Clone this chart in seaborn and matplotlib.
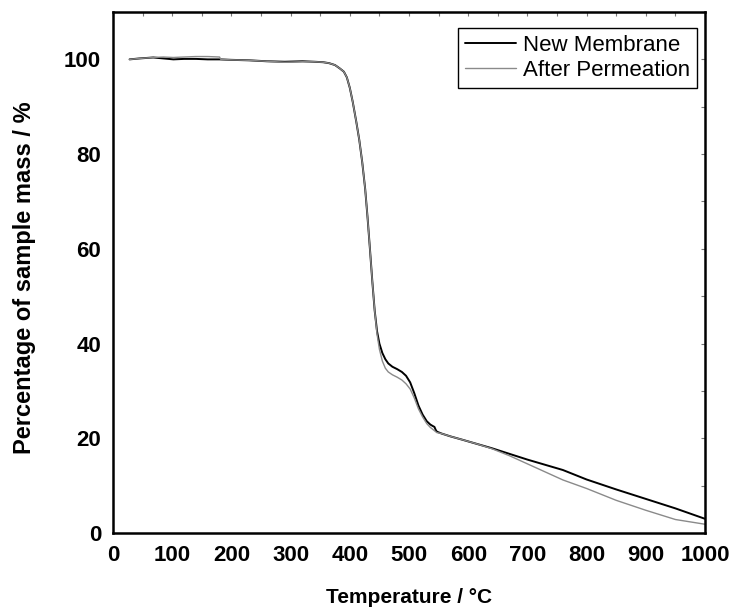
import matplotlib
matplotlib.use("Agg")
import matplotlib.pyplot as plt
from matplotlib.ticker import MultipleLocator
import seaborn as sns
import pandas as pd

# Thermogravimetric curves: temperature (°C) and remaining sample mass (%)
temp_new = [28, 45, 68, 85, 102, 120, 140, 160, 180, 200, 230, 260, 290, 320, 340,
            355, 365, 375, 383, 390, 395, 400, 405, 411, 416, 421, 426, 430, 434,
            438, 442, 446, 450, 455, 460, 465, 472, 480, 488, 495, 502, 509, 516,
            523, 530, 536, 540, 543, 545, 547, 555, 570, 590, 615, 640, 670, 700,
            730, 760, 800, 850, 900, 950, 1000]
mass_new = [100.0, 100.2, 100.4, 100.2, 100.0, 100.1, 100.1, 100.0, 100.0, 99.9,
            99.8, 99.6, 99.5, 99.6, 99.5, 99.4, 99.2, 98.8, 98.1, 97.4, 96.2, 94.0,
            91.0, 86.8, 83.0, 78.3, 72.6, 66.6, 60.0, 53.2, 47.0, 42.6, 40.0, 38.0,
            36.7, 35.8, 35.1, 34.6, 34.0, 33.2, 31.8, 29.5, 26.9, 25.0, 23.6, 22.9,
            22.6, 22.4, 21.8, 21.4, 21.0, 20.4, 19.7, 18.8, 17.9, 16.7, 15.5, 14.4,
            13.3, 11.3, 9.2, 7.2, 5.2, 3.0]

temp_perm = [28, 45, 68, 85, 102, 120, 140, 160, 180, 182, 200, 230, 260, 290, 320,
             340, 355, 365, 375, 383, 390, 395, 400, 405, 411, 416, 421, 426, 430,
             434, 438, 442, 446, 450, 455, 460, 465, 472, 480, 488, 495, 502, 509,
             516, 523, 530, 536, 540, 543, 545, 547, 555, 570, 590, 615, 640, 670,
             700, 730, 760, 800, 850, 900, 950, 1000]
mass_perm = [100.0, 100.2, 100.4, 100.5, 100.4, 100.5, 100.6, 100.6, 100.5, 100.0,
             99.9, 99.8, 99.6, 99.4, 99.5, 99.5, 99.4, 99.2, 98.8, 98.1, 97.4, 96.2,
             94.0, 91.0, 86.8, 83.0, 78.3, 72.6, 66.6, 60.0, 53.2, 47.0, 42.0, 38.8,
             36.3, 34.8, 34.0, 33.4, 32.9, 32.3, 31.5, 30.4, 28.5, 26.2, 24.5, 23.1,
             22.3, 21.9, 21.6, 21.4, 21.2, 21.0, 20.4, 19.7, 18.8, 17.8, 16.3, 14.6,
             12.9, 11.2, 9.4, 6.9, 4.8, 2.85, 1.85]

labels = ["New Membrane", "After Permeation"]

df_new = pd.DataFrame({"T": temp_new, "m": mass_new})
df_perm = pd.DataFrame({"T": temp_perm, "m": mass_perm})

sns.set_style("white")
plt.rcParams["font.family"] = ["Liberation Sans", "DejaVu Sans"]
plt.rcParams.update({"text.color": "black", "axes.labelcolor": "black",
                     "xtick.color": "black", "ytick.color": "black"})

fig = plt.figure(figsize=(7.31, 6.13), dpi=100)
ax = fig.add_axes([0.1546, 0.1305, 0.8098, 0.8499])

sns.lineplot(data=df_new, x="T", y="m", sort=False, estimator=None,
             color="black", linewidth=1.4, label=labels[0], ax=ax)
sns.lineplot(data=df_perm, x="T", y="m", sort=False, estimator=None,
             color="#8a8a8a", linewidth=1.0, label=labels[1], ax=ax)

ax.set_xlim(0, 1000)
ax.set_ylim(0, 110)
ax.xaxis.set_major_locator(MultipleLocator(100))
ax.xaxis.set_minor_locator(MultipleLocator(50))
ax.yaxis.set_major_locator(MultipleLocator(20))
ax.yaxis.set_minor_locator(MultipleLocator(10))

for side in ["left", "bottom", "top", "right"]:
    ax.spines[side].set_visible(True)
    ax.spines[side].set_color("black")
    ax.spines[side].set_linewidth(1.8)

ax.tick_params(axis="both", which="major", direction="out", length=7, width=1.6,
               color="black", labelcolor="black", labelsize=16, pad=1.5,
               top=False, right=False)
ax.tick_params(axis="both", which="minor", direction="out", length=4, width=1.4,
               color="black", top=False, right=False)
for lab in ax.get_xticklabels() + ax.get_yticklabels():
    lab.set_fontweight("bold")

# faint inward ticks along the top and right frame
ax_top = ax.secondary_xaxis("top")
ax_top.xaxis.set_major_locator(MultipleLocator(50))
ax_top.tick_params(direction="in", length=3, width=0.8, color="#777777",
                   labeltop=False)
ax_top.spines["top"].set_visible(False)
ax_right = ax.secondary_yaxis("right")
ax_right.yaxis.set_major_locator(MultipleLocator(10))
ax_right.tick_params(direction="in", length=3, width=0.8, color="#777777",
                     labelright=False)
ax_right.spines["right"].set_visible(False)

ax.set_xlabel("Temperature / °C", fontsize=15, fontweight="bold", color="black")
ax.xaxis.set_label_coords(0.5, -0.105)
ax.set_ylabel("Percentage of sample mass / %", fontsize=17, fontweight="bold",
              color="black")
ax.yaxis.set_label_coords(-0.13, 0.49)

leg = ax.legend(loc="upper right", bbox_to_anchor=(0.986, 0.969), fontsize=16,
                frameon=True, fancybox=False, edgecolor="black", framealpha=1,
                handlelength=2.3, handletextpad=0.3, borderpad=0.3,
                labelspacing=0.2, borderaxespad=0)
leg.get_frame().set_linewidth(1.0)
for t in leg.get_texts():
    t.set_color("black")

fig.savefig("out.png", dpi=100)
